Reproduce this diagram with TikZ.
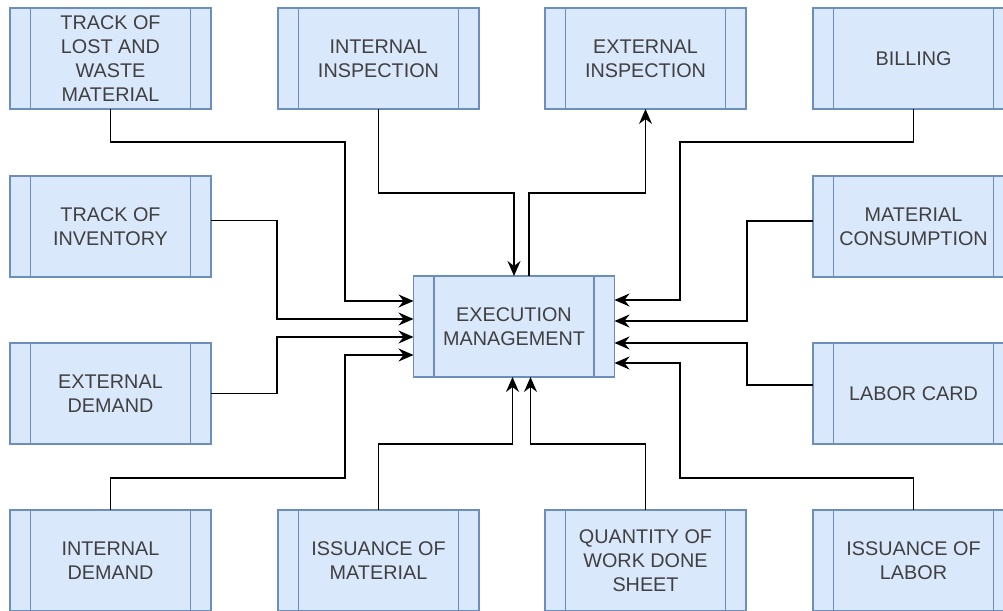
\documentclass[tikz,border=0pt]{standalone}
\usepackage{fontspec}
\setmainfont{Liberation Sans}
\usetikzlibrary{arrows.meta,calc}
\definecolor{boxfill}{HTML}{DAE8FC}
\definecolor{boxline}{HTML}{6C8EBF}
\definecolor{txt}{HTML}{404040}
\begin{document}
\begin{tikzpicture}[x=1pt,y=-1pt,
  procbox/.style={draw=boxline,fill=boxfill,line width=1.2pt,minimum width=201pt,minimum height=101pt,
    inner sep=0pt,outer sep=0pt,align=center,text=txt,
    font=\fontsize{19.8}{24}\selectfont,
    path picture={
      \draw[boxline,line width=1.2pt] ([xshift=20.5pt]path picture bounding box.north west) -- ([xshift=20.5pt]path picture bounding box.south west);
      \draw[boxline,line width=1.2pt] ([xshift=-20.5pt]path picture bounding box.north east) -- ([xshift=-20.5pt]path picture bounding box.south east);
    }},
  conn/.style={draw=black,line width=1.4pt,-{Stealth[length=15pt,width=13pt,inset=5pt]}}]
\useasboundingbox (0,0) rectangle (1003,610);
\clip (0,0) rectangle (1003,610);
% top row
\node[procbox] (a1) at (110.5,58.5) {TRACK OF\\LOST AND\\WASTE\\MATERIAL};
\node[procbox] (a2) at (378.5,58.5) {INTERNAL\\INSPECTION};
\node[procbox] (a3) at (645.5,58.5) {EXTERNAL\\INSPECTION};
\node[procbox] (a4) at (913.5,58.5) {BILLING};
% second row
\node[procbox] (b1) at (110.5,226.5) {TRACK OF\\INVENTORY};
\node[procbox] (b4) at (913.5,226.5) {MATERIAL\\CONSUMPTION};
% third row
\node[procbox] (c1) at (110.5,393.5) {EXTERNAL\\DEMAND};
\node[procbox] (c4) at (913.5,393.5) {LABOR CARD};
% bottom row
\node[procbox] (d1) at (110.5,560.5) {INTERNAL\\DEMAND};
\node[procbox] (d2) at (378.5,560.5) {ISSUANCE OF\\MATERIAL};
\node[procbox] (d3) at (645.5,560.5) {QUANTITY OF\\WORK DONE\\SHEET};
\node[procbox] (d4) at (913.5,560.5) {ISSUANCE OF\\LABOR};
% center
\node[procbox] (c) at (514,326.5) {EXECUTION\\MANAGEMENT};
% connectors
\draw[conn] (a1.south) |- (345,142) |- ($(c.west)+(0,-25.5)$);
\draw[conn] (a2.south) |- (514,193) -- (c.north);
\draw[conn] ($(c.north)+(15,0)$) |- (645.5,193) -- (a3.south);
\draw[conn] (a4.south) |- (680,142) |- ($(c.east)+(0,-26.5)$);
\draw[conn] ($(b1.east)+(0,-6)$) -| (277,319) -- ($(c.west)+(0,-7.5)$);
\draw[conn] (c1.east) -| (277,337) -- ($(c.west)+(0,10.5)$);
\draw[conn] (d1.north) |- (345,478) |- ($(c.west)+(0,28.5)$);
\draw[conn] (d2.north) |- (512.5,444) -- ($(c.south)+(-1.5,0)$);
\draw[conn] (d3.north) |- (530.5,444) -- ($(c.south)+(16.5,0)$);
\draw[conn] (d4.north) |- (680,478) |- ($(c.east)+(0,36.5)$);
\draw[conn] ($(b4.west)+(0,-5.5)$) -| (747,321) -- ($(c.east)+(0,-5.5)$);
\draw[conn] ($(c4.west)+(0,-8.5)$) -| (747,343) -- ($(c.east)+(0,16.5)$);
\end{tikzpicture}
\end{document}
